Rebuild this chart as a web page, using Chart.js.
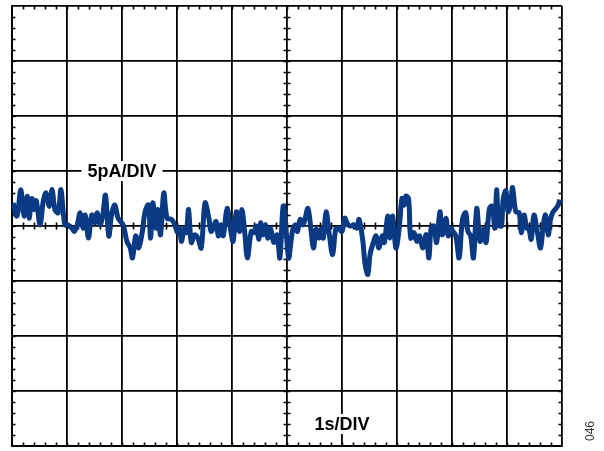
<!DOCTYPE html>
<html>
<head>
<meta charset="utf-8">
<script src="https://cdn.jsdelivr.net/npm/chart.js@4/dist/chart.umd.min.js"></script>
<style>
  html, body { margin: 0; padding: 0; background: #fff; }
  #wrap { width: 604px; height: 451px; position: relative; }
</style>
</head>
<body>
<div id="wrap"><canvas id="scope"></canvas></div>
<script>
// --- Data (time in s, current in pA) ---
const times = [
  0.02, 0.09, 0.16, 0.22, 0.28, 0.31, 0.36, 0.40, 0.44, 0.51, 0.57, 0.62, 0.68, 0.73, 0.78, 0.84, 0.89, 0.96,
  1.02, 1.09, 1.13, 1.18, 1.24, 1.29, 1.33, 1.39, 1.45, 1.51, 1.55, 1.60, 1.65, 1.70, 1.76, 1.81, 1.87, 1.93,
  2.02, 2.09, 2.15, 2.19, 2.25, 2.30, 2.36, 2.42, 2.48, 2.52, 2.56, 2.62, 2.65, 2.70, 2.76, 2.82, 2.90, 2.96,
  3.01, 3.05, 3.08, 3.13, 3.17, 3.21, 3.26, 3.32, 3.38, 3.44, 3.51, 3.58, 3.62, 3.67, 3.71, 3.75, 3.79, 3.84, 3.91, 3.98,
  4.02, 4.08, 4.14, 4.18, 4.23, 4.28, 4.35, 4.40, 4.44, 4.49, 4.52, 4.56, 4.61, 4.65, 4.70, 4.76, 4.82, 4.87, 4.93, 4.98,
  5.03, 5.07, 5.11, 5.16, 5.19, 5.24, 5.29, 5.33, 5.38, 5.42, 5.48, 5.53, 5.58, 5.62, 5.66, 5.71, 5.77, 5.83, 5.89, 5.95,
  6.00, 6.05, 6.11, 6.16, 6.22, 6.27, 6.31, 6.38, 6.42, 6.47, 6.51, 6.57, 6.62, 6.67, 6.73, 6.77, 6.83, 6.87, 6.92, 6.98,
  7.04, 7.09, 7.13, 7.16, 7.21, 7.25, 7.31, 7.36, 7.41, 7.47, 7.53, 7.58, 7.62, 7.67, 7.72, 7.78, 7.82, 7.89, 7.93, 7.98,
  8.02, 8.07, 8.13, 8.19, 8.25, 8.29, 8.34, 8.39, 8.45, 8.51, 8.57, 8.62, 8.68, 8.73, 8.78, 8.81, 8.85, 8.90, 8.93, 8.98,
  9.02, 9.07, 9.10, 9.16, 9.22, 9.26, 9.31, 9.36, 9.40, 9.44, 9.49, 9.55, 9.61, 9.66, 9.70, 9.75, 9.79, 9.84, 9.89, 9.93, 9.96
];
const currentPA = [
  2.1, 0.9, 3.3, 0.9, 2.7, 0.7, 2.5, 1.5, 2.3, 0.1, 2.3, 3.0, 1.8, 3.3, 1.5, 1.2, 3.3, 0.1,
  0.1, -0.2, -0.5, 0.0, 1.2, -0.2, 1.0, -1.1, 1.0, 0.3, 1.2, 0.1, 1.0, 2.8, -0.9, 1.0, 1.9, 0.7,
  0.1, -1.4, -2.0, -2.9, -0.9, -2.0, -0.8, 1.3, 1.9, -1.1, 2.1, -0.2, 1.5, -0.8, 3.0, 0.7, 0.6, 0.1,
  -0.6, -0.2, -1.4, -0.3, -0.6, 1.5, -1.5, -0.8, -1.1, -2.0, 2.1, 0.7, -0.5, 0.0, 0.4, -0.9, 0.1, -0.9, 1.6, -0.5,
  -1.4, 1.3, -0.5, 1.5, -0.5, -2.9, -0.5, -0.6, 0.0, -1.2, 0.3, -0.8, 0.1, -1.1, -0.2, -1.5, -0.8, -2.9, 1.8, -0.2,
  -2.9, -1.5, -0.2, 0.1, -0.5, 0.6, 0.1, 0.7, 1.6, 0.4, -2.0, -0.3, -1.1, -0.3, -1.1, 1.3, -0.8, -2.6, -0.2, -0.3,
  -0.5, 0.7, 0.1, 0.0, 0.1, -0.2, 0.6, -1.4, -3.5, -4.4, -2.6, -1.5, -0.9, -2.0, -0.9, -1.5, 0.9, -1.1, 0.9, -2.0,
  -0.2, 2.5, 1.9, 2.7, 2.5, -1.1, -0.6, -1.4, -0.9, -2.0, -0.8, -2.9, -0.2, 0.0, -1.5, 1.3, -0.8, 0.7, -0.9, -0.2,
  -0.5, -0.9, -2.9, 0.6, 1.2, -0.5, -0.9, -2.9, 1.6, -1.4, -0.3, -1.5, 1.6, 1.8, -0.2, 3.3, 0.1, 0.0, 2.4, 3.2,
  1.3, 2.1, 3.5, 1.3, 1.2, -0.6, 1.0, -0.2, -0.3, -1.2, 1.0, -0.5, -2.0, 0.1, 1.0, -0.8, 0.6, 1.3, 1.6, 1.9, 2.4
];

// Scope settings: 10 horizontal divisions of 1 s, 8 vertical divisions of 5 pA
const X_MIN = 0, X_MAX = 10, X_DIV = 1;
const Y_MIN = -20, Y_MAX = 20, Y_DIV = 5;
const MINOR_PER_DIV = 5;

const labels = [
  { text: '5pA/DIV', x: 2, y: 5 },
  { text: '1s/DIV', x: 6, y: -18 }
];

const points = times.map((t, i) => ({ x: t, y: currentPA[i] }));

// minor tick marks on borders and center axes
const minorTicks = {
  id: 'minorTicks',
  beforeDatasetsDraw(chart) {
    const { ctx, chartArea: a, scales: { x, y } } = chart;
    const len = 3.5;
    const cx = x.getPixelForValue((X_MIN + X_MAX) / 2);
    const cy = y.getPixelForValue((Y_MIN + Y_MAX) / 2);
    ctx.save();
    ctx.strokeStyle = '#000';
    ctx.lineWidth = 1.6;
    ctx.beginPath();
    const xStep = X_DIV / MINOR_PER_DIV;
    for (let v = X_MIN + xStep; v < X_MAX - 1e-6; v += xStep) {
      const px = Math.round(x.getPixelForValue(v)) + 0.5;
      ctx.moveTo(px, a.top); ctx.lineTo(px, a.top + len);
      ctx.moveTo(px, a.bottom); ctx.lineTo(px, a.bottom - len);
      ctx.moveTo(px, cy - len); ctx.lineTo(px, cy + len);
    }
    const yStep = Y_DIV / MINOR_PER_DIV;
    for (let v = Y_MIN + yStep; v < Y_MAX - 1e-6; v += yStep) {
      const py = Math.round(y.getPixelForValue(v)) + 0.5;
      ctx.moveTo(a.left, py); ctx.lineTo(a.left + len, py);
      ctx.moveTo(a.right, py); ctx.lineTo(a.right - len, py);
      ctx.moveTo(cx - len, py); ctx.lineTo(cx + len, py);
    }
    ctx.stroke();
    ctx.restore();
  }
};

// per-division labels with white backing
const divLabels = {
  id: 'divLabels',
  afterDatasetsDraw(chart) {
    const { ctx, scales: { x, y } } = chart;
    ctx.save();
    ctx.font = 'bold 18px "Liberation Sans", Arial, sans-serif';
    ctx.textAlign = 'center';
    ctx.textBaseline = 'middle';
    labels.forEach(l => {
      const px = x.getPixelForValue(l.x);
      const py = y.getPixelForValue(l.y);
      const w = ctx.measureText(l.text).width;
      ctx.fillStyle = '#fff';
      ctx.fillRect(px - w / 2 - 6, py - 10, w + 12, 20);
      ctx.fillStyle = '#000';
      ctx.fillText(l.text, px, py + 1);
    });
    ctx.restore();
    // figure id at the right edge
    ctx.save();
    ctx.font = '12px "Liberation Sans", Arial, sans-serif';
    ctx.fillStyle = '#333';
    ctx.translate(591, 431);
    ctx.rotate(-Math.PI / 2);
    ctx.textAlign = 'center';
    ctx.textBaseline = 'middle';
    ctx.fillText('046', 0, 0);
    ctx.restore();
  }
};

new Chart(document.getElementById('scope'), {
  type: 'line',
  data: {
    datasets: [{
      data: points,
      borderColor: '#0b3a84',
      borderWidth: 5,
      pointRadius: 0,
      tension: 0.35,
      fill: false
    }]
  },
  options: {
    responsive: true,
    maintainAspectRatio: false,
    animation: false,
    layout: { padding: { left: 12, top: 6, right: 42, bottom: 5 } },
    plugins: { legend: { display: false }, tooltip: { enabled: false } },
    scales: {
      x: {
        type: 'linear', min: X_MIN, max: X_MAX,
        ticks: { display: false, stepSize: X_DIV },
        grid: { color: '#000', lineWidth: 1.8, drawTicks: false },
        border: { color: '#000', width: 2 }
      },
      y: {
        type: 'linear', min: Y_MIN, max: Y_MAX,
        ticks: { display: false, stepSize: Y_DIV },
        grid: { color: '#000', lineWidth: 1.8, drawTicks: false },
        border: { color: '#000', width: 2 }
      }
    }
  },
  plugins: [minorTicks, divLabels]
});
</script>
</body>
</html>
